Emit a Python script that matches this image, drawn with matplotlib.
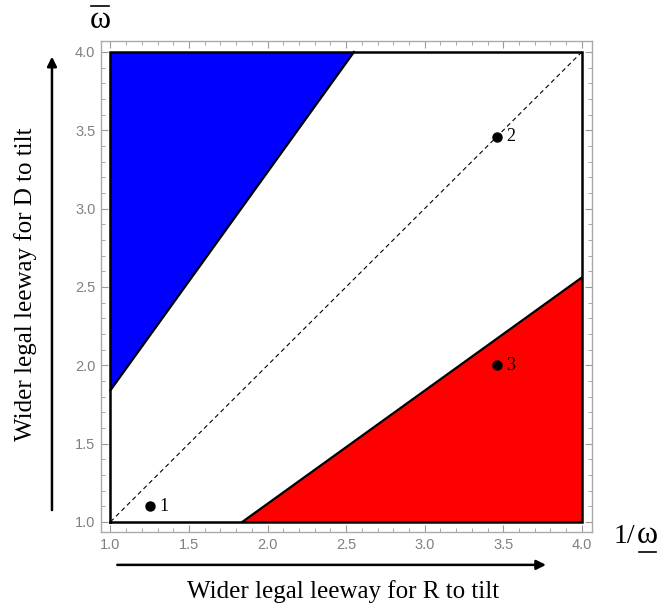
import matplotlib.pyplot as plt
from matplotlib.patches import Polygon
from matplotlib.lines import Line2D

# region corners
blue_x = [1.0, 1.0, 2.55]
blue_y = [1.84, 4.0, 4.0]
red_x = [1.84, 4.0, 4.0]
red_y = [1.0, 1.0, 2.56]
square_x = [1.0, 4.0, 4.0, 1.0, 1.0]
square_y = [1.0, 1.0, 4.0, 4.0, 1.0]
upper_x = [1.0, 2.55]
upper_y = [1.84, 4.0]
lower_x = [1.84, 4.0]
lower_y = [1.0, 2.56]
diag = [1.0, 4.0]

pt_x = [1.25, 3.46, 3.46]
pt_y = [1.10, 3.46, 2.00]
pt_labels = ['1', '2', '3']

ticks = [1.0, 1.5, 2.0, 2.5, 3.0, 3.5, 4.0]

serif = 'Liberation Serif'

fig = plt.figure(figsize=(6.62, 6.12), dpi=100)
ax = fig.add_axes([0.1526, 0.1307, 0.7417, 0.8023])

ax.add_patch(Polygon(list(zip(blue_x, blue_y)), closed=True, facecolor='#0000ff', edgecolor='none'))
ax.add_patch(Polygon(list(zip(red_x, red_y)), closed=True, facecolor='#ff0000', edgecolor='none'))
ax.plot(square_x, square_y, color='black', linewidth=1.8, solid_joinstyle='miter')
ax.plot(upper_x, upper_y, color='black', linewidth=1.6)
ax.plot(lower_x, lower_y, color='black', linewidth=1.6)
ax.plot(diag, diag, color='black', linewidth=0.8, linestyle=(0, (4, 3)))

ax.plot(pt_x, pt_y, 'o', color='black', markersize=6.5)
for x, y, s in zip(pt_x, pt_y, pt_labels):
    ax.text(x + 0.06, y, s, fontsize=13, family=serif, va='center', ha='left')

ax.set_xlim(0.94, 4.065)
ax.set_ylim(0.935, 4.07)
ax.set_xticks(ticks)
ax.set_yticks(ticks)
ax.set_xticks([1 + 0.1 * i for i in range(31)], minor=True)
ax.set_yticks([1 + 0.1 * i for i in range(31)], minor=True)
ax.tick_params(which='both', direction='in', top=True, right=True, colors='#999999',
               labelcolor='#808080', labelsize=10.5)
ax.tick_params(which='major', length=5, width=0.8, pad=4)
ax.tick_params(which='minor', length=3, width=0.6)
for lab in ax.get_xticklabels() + ax.get_yticklabels():
    lab.set_family('Liberation Sans')
for sp in ax.spines.values():
    sp.set_color('#aaaaaa')
    sp.set_linewidth(1.0)

# omega with bar over (y axis) and "1/omega" with bar under (x axis)
w_top = fig.text(0.151, 0.954, 'ω', fontsize=23, family=serif, ha='center', va='baseline')
fig.text(0.96, 0.1127, '1/', fontsize=20, family=serif, ha='right', va='baseline')
w_bot = fig.text(0.962, 0.1127, 'ω', fontsize=23, family=serif, ha='left', va='baseline')

fig.text(0.039, 0.536, 'Wider legal leeway for D to tilt', rotation=90, fontsize=18,
         family=serif, ha='center', va='center')
fig.text(0.518, 0.034, 'Wider legal leeway for R to tilt', fontsize=18,
         family=serif, ha='center', va='center')

fig.add_artist(plt.Annotation('', xy=(0.0785, 0.912), xytext=(0.0785, 0.162),
                              xycoords='figure fraction',
                              arrowprops=dict(arrowstyle='-|>', color='black', lw=1.8,
                                              mutation_scale=14)))
fig.add_artist(plt.Annotation('', xy=(0.829, 0.077), xytext=(0.173, 0.077),
                              xycoords='figure fraction',
                              arrowprops=dict(arrowstyle='-|>', color='black', lw=1.8,
                                              mutation_scale=14)))

fig.canvas.draw()
inv = fig.transFigure.inverted()
bb = w_top.get_window_extent().transformed(inv)
fig.add_artist(Line2D([bb.x0 + 0.003, bb.x1 - 0.003], [0.990, 0.990], color='black', lw=1.2))
bb = w_bot.get_window_extent().transformed(inv)
fig.add_artist(Line2D([bb.x0 + 0.003, bb.x1 - 0.003], [0.098, 0.098], color='black', lw=1.2))

fig.savefig('out.png', dpi=100)
